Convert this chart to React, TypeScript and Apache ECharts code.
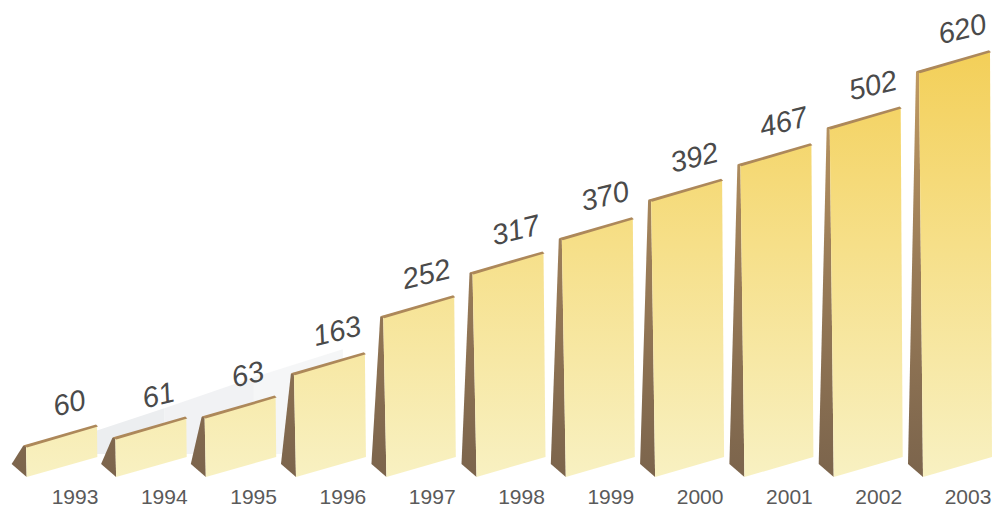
import React, { useEffect, useRef } from "react";
import * as echarts from "echarts";

const years = ["1993","1994","1995","1996","1997","1998","1999","2000","2001","2002","2003"];
const printedValues = [60, 61, 63, 163, 252, 317, 370, 392, 467, 502, 620];
// Heights of the drawn bars (the artwork is not strictly proportional to its labels).
const drawnHeights = [49, 61, 93, 159, 246, 313, 365, 424, 478, 534, 620];
const shadowTop = [60, 105, 152, 195];

const LEFT = -49, WIDTH = 71, RISE = 19, BACK = 15, BACK_DROP = 13;

function pts(p: number[][]) { return { points: p }; }

export default function App() {
  const ref = useRef<HTMLDivElement>(null);
  useEffect(() => {
    const chart = echarts.init(ref.current!, null, { renderer: "svg" });
    const front = new echarts.graphic.LinearGradient(0, 50, 0, 477, [
      { offset: 0, color: "#f3cf58" },
      { offset: 0.45, color: "#f6df88" },
      { offset: 1, color: "#f8f1c2" },
    ], true);
    const side = new echarts.graphic.LinearGradient(0, 50, 0, 477, [
      { offset: 0, color: "#c39c62" },
      { offset: 0.5, color: "#9a7c58" },
      { offset: 1, color: "#7b644c" },
    ], true);
    chart.setOption({
      animation: false,
      backgroundColor: "#ffffff",
      grid: { left: 75, right: 27, top: 0, bottom: 31, outerBoundsMode: "none" },
      xAxis: {
        type: "category", data: years, boundaryGap: false,
        axisLine: { show: false }, axisTick: { show: false },
        axisLabel: { margin: 9, fontFamily: "Liberation Sans", fontSize: 21, color: "#5a5a5a", interval: 0 },
      },
      yAxis: { type: "value", min: 0, max: 728, show: false, splitLine: { show: false } },
      series: [
        {
          type: "custom", silent: true, z: 1,
          data: shadowTop.map((v, i) => [i, v]),
          renderItem: (_: any, api: any) => {
            const i = api.value(0);
            if (i >= shadowTop.length - 1) return { type: "group", children: [] };
            const a = api.coord([i, api.value(1)]);
            const b = api.coord([i + 1, shadowTop[i + 1]]);
            const base = api.coord([i, 35]);
            return {
              type: "polygon",
              shape: pts([a, b, [b[0], base[1]], [a[0], base[1]]]),
              style: { fill: "#eceef0", opacity: 1 - i * 0.25 },
            };
          },
        },
        {
          type: "custom", silent: true, z: 2,
          data: years.map((_, i) => [i, drawnHeights[i], printedValues[i]]),
          renderItem: (_: any, api: any) => {
            const top = api.coord([api.value(0), api.value(1)]);
            const bot = api.coord([api.value(0), 0]);
            const h = bot[1] - top[1];
            const tilt = Math.min(4, h * 0.02);
            const tl = [top[0] + LEFT, top[1]];
            const tr = [tl[0] + WIDTH, tl[1] - RISE];
            const bl = [tl[0] + tilt, bot[1]];
            const br = [tr[0] + tilt / 2, bot[1] - RISE - 1];
            const back = [bl[0] - BACK, bot[1] - BACK_DROP];
            return {
              type: "group",
              children: [
                { type: "polygon", shape: pts([[tl[0] - 3, tl[1] + 1], tl, bl, back]), style: { fill: side } },
                { type: "polygon", shape: pts([tl, tr, br, bl]), style: { fill: front } },
                {
                  type: "polygon",
                  shape: pts([[tl[0] - 3, tl[1] + 0.5], [tr[0] - 1, tr[1] - 1.5], [tr[0] + 1, tr[1] + 0.5], [tl[0] + 1, tl[1] + 2.5]]),
                  style: { fill: "#ad885a" },
                },
                {
                  type: "text",
                  x: top[0] - 6, y: top[1] - 42,
                  rotation: 0.24,
                  style: {
                    text: String(api.value(2)), align: "center", verticalAlign: "middle",
                    fontFamily: "Liberation Sans", fontStyle: "italic", fontSize: 29, fill: "#4a4a4a",
                  },
                },
              ],
            };
          },
        },
      ],
    });
    return () => chart.dispose();
  }, []);
  return <div ref={ref} style={{ position: "absolute", left: 0, top: 0, width: 995, height: 508 }} />;
}
